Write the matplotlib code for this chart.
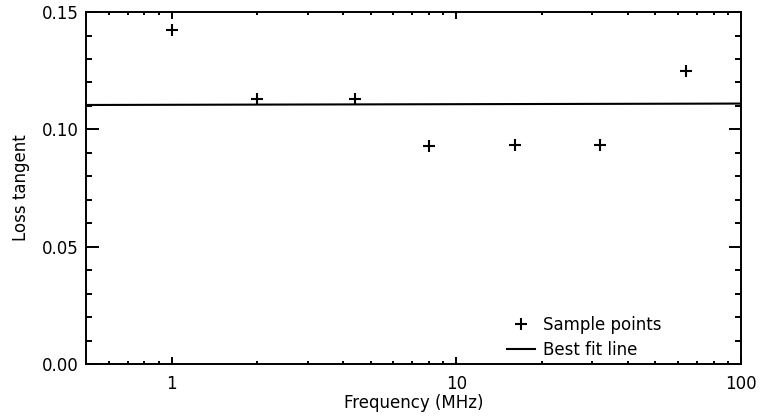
import matplotlib
matplotlib.use("Agg")
import matplotlib.pyplot as plt
from matplotlib.ticker import FixedLocator, FixedFormatter, MultipleLocator, LogLocator, NullFormatter

# sample points
freq_mhz = [1, 2, 4.4, 8, 16, 32, 64]
loss_tangent = [0.1422, 0.1128, 0.1128, 0.0930, 0.0932, 0.0932, 0.1249]

# best fit line end points
fit_freq = [0.5, 100]
fit_loss = [0.1104, 0.1110]

x_ticks = [1, 10, 100]
x_tick_labels = ["1", "10", "100"]

plt.rcParams['font.family'] = ['DejaVu Sans']

fig = plt.figure(figsize=(7.6, 4.16), dpi=100)
ax = fig.add_axes([0.1132, 0.125, 0.862, 0.846])

ax.plot(freq_mhz, loss_tangent, linestyle='none', marker='+', color='black',
        markersize=8, markeredgewidth=1.5, label='Sample points')
ax.plot(fit_freq, fit_loss, color='black', linewidth=1.5, label='Best fit line')

ax.set_xscale('log')
ax.set_xlim(0.5, 100)
ax.set_ylim(0, 0.15)

ax.xaxis.set_major_locator(FixedLocator(x_ticks))
ax.xaxis.set_major_formatter(FixedFormatter(x_tick_labels))
ax.xaxis.set_minor_locator(LogLocator(base=10, subs=range(2, 10)))
ax.xaxis.set_minor_formatter(NullFormatter())
ax.yaxis.set_major_locator(MultipleLocator(0.05))
ax.yaxis.set_minor_locator(MultipleLocator(0.01))
ax.yaxis.set_major_formatter(plt.FuncFormatter(lambda v, p: f"{v:.2f}"))

ax.tick_params(which='both', direction='in', top=True, right=True,
               labelsize=12, width=1.4)
ax.tick_params(axis='y', which='major', length=9, pad=5)
ax.tick_params(axis='y', which='minor', length=4.5)
ax.tick_params(axis='x', which='major', length=5, pad=8)
ax.tick_params(axis='x', which='minor', length=2.5)
for s in ax.spines.values():
    s.set_linewidth(1.4)

ax.set_xlabel('Frequency (MHz)', fontsize=12, labelpad=0.5)
ax.set_ylabel('Loss tangent', fontsize=12, labelpad=9)

ax.legend(loc='lower left', bbox_to_anchor=(0.643, 0.015), frameon=False,
          fontsize=12, handlelength=1.65, handletextpad=0.5,
          borderpad=0, borderaxespad=0, labelspacing=0.42)

fig.savefig('out.png', dpi=100)
